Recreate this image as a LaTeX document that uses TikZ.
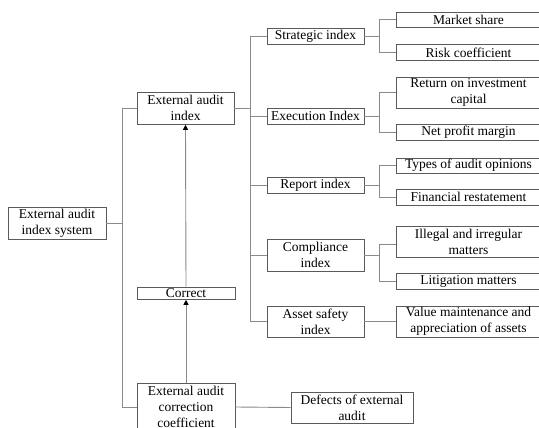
\documentclass[tikz,border=0pt]{standalone}
\usepackage{fontspec}
\setmainfont{Liberation Serif}
\usetikzlibrary{arrows.meta}
\definecolor{linegray}{HTML}{8A8A8A}
\definecolor{boxgray}{HTML}{5A5A5A}
\begin{document}
\begin{tikzpicture}[x=1pt,y=-1pt,
  box/.style={draw=boxgray,line width=0.8pt,inner sep=0pt,align=center,
    font=\fontsize{13.5}{16}\selectfont,text=black},
  conn/.style={draw=linegray,line width=0.9pt},
  arr/.style={conn,-{Triangle[width=5pt,length=5pt,color=black]},shorten >=0.4pt}]
\useasboundingbox (0,0) rectangle (539,428);
\fill[white] (0,0) rectangle (539,428);
% left column
\node[box,minimum width=98pt,minimum height=32pt] (sys) at (57,223) {External audit\\index system};
\node[box,minimum width=97pt,minimum height=32pt] (eai) at (185.5,108) {External audit\\index};
\node[box,minimum width=98pt,minimum height=12pt] (cor) at (186,293) {Correct};
\node[box,minimum width=98pt,minimum height=48pt] (corr) at (186,407) {External audit\\correction\\coefficient};
\node[box,minimum width=122pt,minimum height=31pt] (def) at (352,407.5) {Defects of external\\audit};
% middle column
\node[box,minimum width=97pt,minimum height=16pt] (strat) at (315.5,36) {Strategic index};
\node[box,minimum width=97pt,minimum height=16pt] (exec) at (315.5,116) {Execution Index};
\node[box,minimum width=97pt,minimum height=16pt] (rep) at (315.5,185) {Report index};
\node[box,minimum width=97pt,minimum height=32pt] (comp) at (315.5,255) {Compliance\\index};
\node[box,minimum width=97pt,minimum height=31pt] (asset) at (315.5,321.5) {Asset safety\\index};
% leaves
\node[box,minimum width=145pt,minimum height=15pt] (ms) at (468.5,19.5) {Market share};
\node[box,minimum width=145pt,minimum height=16pt] (risk) at (468.5,52.5) {Risk coefficient};
\node[box,minimum width=145pt,minimum height=31pt] (roi) at (468.5,92.5) {Return on investment\\capital};
\node[box,minimum width=145pt,minimum height=16pt] (npm) at (468.5,132) {Net profit margin};
\node[box,minimum width=145pt,minimum height=15pt] (typ) at (468.5,165.5) {Types of audit opinions};
\node[box,minimum width=145pt,minimum height=16pt] (fin) at (468.5,197) {Financial restatement};
\node[box,minimum width=145pt,minimum height=31pt] (ill) at (468.5,241.5) {Illegal and irregular\\matters};
\node[box,minimum width=145pt,minimum height=16pt] (lit) at (468.5,281) {Litigation matters};
\node[box,minimum width=145pt,minimum height=31pt] (val) at (468.5,321.5) {Value maintenance and\\appreciation of assets};
% bus coordinates
\coordinate (busA) at (122,0);
\coordinate (busB) at (250,0);
\coordinate (busC) at (379,0);
% connectors
\draw[conn] (sys.east) -- (sys.east -| busA);
\draw[conn] (eai.west) -- (eai.west -| busA) |- (corr.west);
\draw[conn] (eai.east) -- (eai.east -| busB);
\draw[conn] (strat.west) -- (strat.west -| busB) |- (asset.west);
\draw[conn] (exec.west) -- (exec.west -| busB);
\draw[conn] (rep.west) -- (rep.west -| busB);
\draw[conn] (comp.west) -- (comp.west -| busB);
\draw[conn] (strat.east) -- (strat.east -| busC);
\draw[conn] (ms.west) -- (ms.west -| busC) |- (risk.west);
\draw[conn] (exec.east) -- (exec.east -| busC);
\draw[conn] (roi.west) -- (roi.west -| busC) |- (npm.west);
\draw[conn] (rep.east) -- (rep.east -| busC);
\draw[conn] (typ.west) -- (typ.west -| busC) |- (fin.west);
\draw[conn] (comp.east) -- (comp.east -| busC);
\draw[conn] ([yshift=-2.5pt]ill.west) -- ([yshift=-2.5pt]ill.west -| busC) |- (lit.west);
\draw[conn] (asset.east) -- (val.west);
\draw[conn] (corr.east) -- (def.west);
\draw[arr] (corr.north) -- (cor.south);
\draw[arr] (cor.north) -- (eai.south);
\end{tikzpicture}
\end{document}
